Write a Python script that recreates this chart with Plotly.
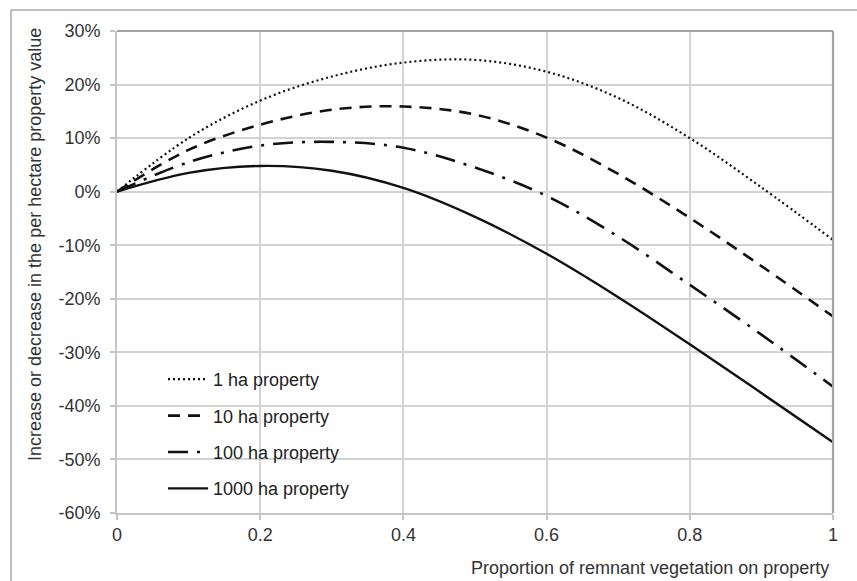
import plotly.graph_objects as go

# ---- data ----
proportion = [0.0, 0.1, 0.2, 0.3, 0.4, 0.5, 0.6, 0.7, 0.8, 0.9, 1.0]
ha_1 = [0.0, 10.0, 17.0, 21.5, 24.1, 24.6, 22.4, 17.5, 10.0, 0.8, -9.0]
ha_10 = [0.0, 7.8, 12.5, 15.3, 15.9, 14.4, 10.1, 3.3, -4.9, -13.9, -23.3]
ha_100 = [0.0, 5.5, 8.6, 9.3, 8.2, 4.5, -0.8, -8.4, -17.4, -26.7, -36.4]
ha_1000 = [0.0, 3.5, 4.8, 3.9, 0.7, -4.7, -11.6, -19.7, -28.5, -37.6, -46.8]

series_names = ["1 ha property", "10 ha property", "100 ha property", "1000 ha property"]
series_values = [ha_1, ha_10, ha_100, ha_1000]

x_tickvals = [0, 0.2, 0.4, 0.6, 0.8, 1]
x_ticktext = ["0", "0.2", "0.4", "0.6", "0.8", "1"]
y_tickvals = [-60, -50, -40, -30, -20, -10, 0, 10, 20, 30]
y_ticktext = ["-60%", "-50%", "-40%", "-30%", "-20%", "-10%", "0%", "10%", "20%", "30%"]

x_title = "Proportion of remnant vegetation on property"
y_title = "Increase or decrease in the per hectare property value"

# ---- styles ----
dashes = ["2px,3px", "12px,8px", "20px,9px,3px,9px", "solid"]
widths = [2.2, 2.6, 2.6, 2.4]
FONT = "Liberation Sans, Arial, sans-serif"
W, H = 857, 581
L, R, T, B = 117, 24, 31, 68
pw, ph = W - L - R, H - T - B


def px_x(px):
    return (px - L) / pw


def px_y(py):
    return (H - B - py) / ph


fig = go.Figure()
for name, vals, dash, w in zip(series_names, series_values, dashes, widths):
    fig.add_trace(go.Scatter(
        x=proportion, y=vals, mode="lines", name=name, legendgroup=name,
        line=dict(color="#111111", width=w, dash=dash, shape="spline", smoothing=1.0),
    ))

grid_c = "#d3d3d3"
frame_c = "#a3a3a3"

fig.update_layout(
    width=W, height=H,
    margin=dict(l=L, r=R, t=T, b=B, pad=0),
    paper_bgcolor="white", plot_bgcolor="white",
    font=dict(family=FONT, size=18, color="#333333"),
    showlegend=True,
    legend=dict(
        x=px_x(163), y=px_y(361), xanchor="left", yanchor="top",
        bgcolor="rgba(255,255,255,0)", borderwidth=0,
        font=dict(family=FONT, size=18, color="#222222"),
        traceorder="grouped", tracegroupgap=10, itemwidth=40,
    ),
    xaxis=dict(
        range=[0, 1], tickvals=x_tickvals, ticktext=x_ticktext,
        showgrid=True, gridcolor=grid_c, gridwidth=1.6,
        showline=True, linecolor="#c4c4c4", linewidth=1.6, mirror=False,
        ticks="outside", ticklen=5, tickcolor="#c4c4c4", tickwidth=1.5,
        zeroline=False, tickfont=dict(family=FONT, size=18, color="#333333"),
        ticklabelstandoff=0,
    ),
    yaxis=dict(
        range=[-60, 30], tickvals=y_tickvals, ticktext=y_ticktext,
        showgrid=True, gridcolor=grid_c, gridwidth=1.6,
        showline=True, linecolor="#c4c4c4", linewidth=1.6, mirror=False,
        ticks="outside", ticklen=5, tickcolor="#c4c4c4", tickwidth=1.5,
        zeroline=False, tickfont=dict(family=FONT, size=18, color="#333333"),
        ticklabelstandoff=6,
    ),
    shapes=[
        # white legend box hiding gridlines
        dict(type="rect", xref="paper", yref="paper", layer="between",
             x0=px_x(123), x1=px_x(392), y0=px_y(507), y1=px_y(355),
             fillcolor="white", line=dict(width=0)),
        # darker top and right plot frame
        dict(type="line", xref="paper", yref="paper", x0=0, x1=1, y0=1, y1=1,
             line=dict(color=frame_c, width=2.2)),
        dict(type="line", xref="paper", yref="paper", x0=1, x1=1, y0=0, y1=1,
             line=dict(color=frame_c, width=2.2)),
        # outer chart-area border (top and left)
        dict(type="line", xref="paper", yref="paper",
             x0=px_x(11), x1=px_x(870), y0=px_y(10), y1=px_y(10),
             line=dict(color="#a8a8a8", width=1.5)),
        dict(type="line", xref="paper", yref="paper",
             x0=px_x(11), x1=px_x(11), y0=px_y(10), y1=px_y(600),
             line=dict(color="#a8a8a8", width=1.5)),
    ],
    annotations=[
        dict(text=x_title, xref="paper", yref="paper", x=px_x(831), y=px_y(568),
             xanchor="right", yanchor="middle", showarrow=False,
             font=dict(family=FONT, size=18, color="#333333")),
        dict(text=y_title, xref="paper", yref="paper", x=px_x(35), y=px_y(245),
             xanchor="center", yanchor="middle", textangle=-90, showarrow=False,
             font=dict(family=FONT, size=18, color="#333333")),
    ],
)

fig.write_html("out.html",
               config={"displayModeBar": False},
               post_script="document.body.style.margin='0';document.body.style.padding='0';")
